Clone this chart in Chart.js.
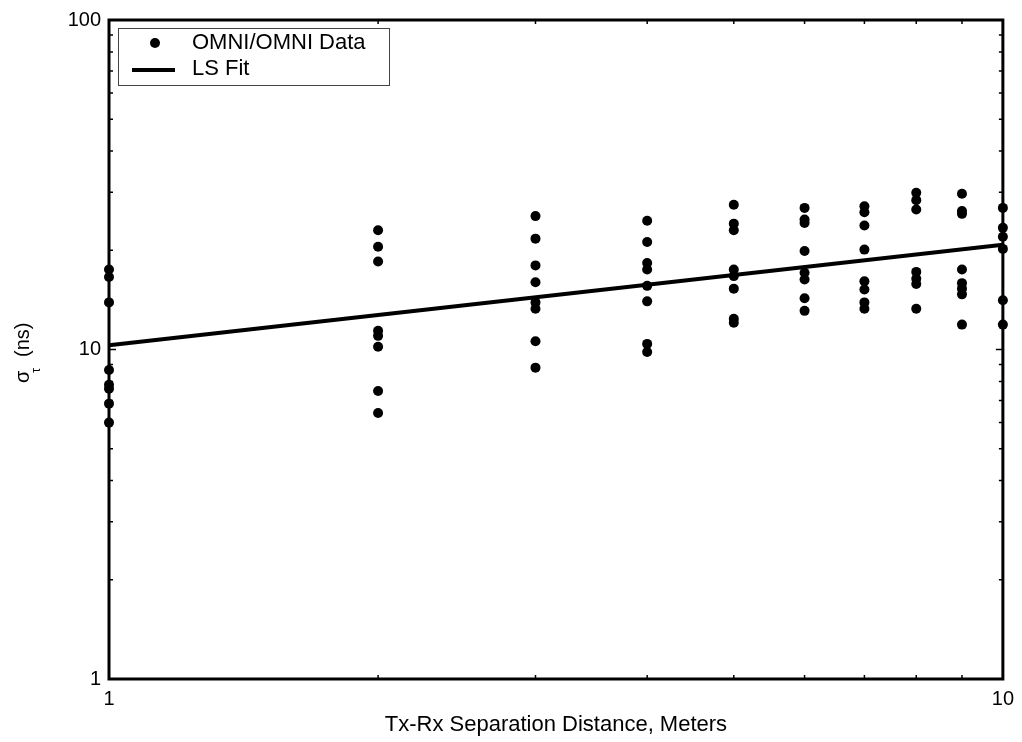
<!DOCTYPE html>
<html>
<head>
<meta charset="utf-8">
<script src="https://cdn.jsdelivr.net/npm/chart.js@4/dist/chart.umd.min.js"></script>
<style>
  html, body { margin: 0; padding: 0; background: #fff; }
  #wrap { width: 1022px; height: 742px; }
</style>
</head>
<body>
<div id="wrap"><canvas id="chart" width="1022" height="742"></canvas></div>
<script>
// delay spread (ns) measured at each Tx-Rx separation (m)
const distances = [1, 2, 3, 4, 5, 6, 7, 8, 9, 10];
const at1m  = [17.5, 16.6, 13.9, 8.67, 7.81, 7.60, 6.85, 6.00];
const at2m  = [23.0, 20.5, 18.5, 11.4, 11.0, 10.2, 7.48, 6.42];
const at3m  = [25.4, 21.7, 18.0, 16.0, 13.9, 13.3, 10.6, 8.81];
const at4m  = [24.6, 21.2, 18.3, 17.5, 15.6, 14.0, 10.4, 9.83];
const at5m  = [27.5, 24.1, 23.0, 17.5, 16.7, 15.3, 12.4, 12.05];
const at6m  = [26.9, 24.8, 24.2, 19.9, 17.1, 16.3, 14.3, 13.1];
const at7m  = [27.2, 26.1, 23.8, 20.1, 16.1, 15.2, 13.9, 13.3];
const at8m  = [29.9, 28.4, 26.6, 17.2, 16.4, 15.8, 13.3];
const at9m  = [29.7, 26.3, 25.8, 17.5, 15.9, 15.3, 14.7, 11.9];
const at10m = [26.9, 23.4, 22.0, 20.2, 14.1, 11.9];
const measured = [at1m, at2m, at3m, at4m, at5m, at6m, at7m, at8m, at9m, at10m];

// least-squares fit, straight on log-log axes
const fitX = [1, 10];
const fitY = [10.3, 20.8];

const xTickLabels = [1, 10];
const yTickLabels = [1, 10, 100];
const xMinor = [2, 3, 4, 5, 6, 7, 8, 9];
const yMinor = [2, 3, 4, 5, 6, 7, 8, 9, 20, 30, 40, 50, 60, 70, 80, 90];

const FONT = '"Liberation Sans", Arial, Helvetica, sans-serif';

const scatterPoints = [];
distances.forEach((d, i) => {
    measured[i].forEach(v => scatterPoints.push({x: d, y: v}));
});
const fitPoints = fitX.map((x, i) => ({x: x, y: fitY[i]}));

// box, inward ticks, legend and the y title with its subscript
const decorations = {
    id: 'decorations',
    beforeDatasetsDraw(chart) {
        const {ctx, chartArea: a, scales} = chart;
        ctx.save();
        ctx.strokeStyle = '#000';
        ctx.lineWidth = 1.5;
        ctx.beginPath();
        xMinor.forEach(v => {
            const px = scales.x.getPixelForValue(v);
            ctx.moveTo(px, a.bottom); ctx.lineTo(px, a.bottom - 4);
            ctx.moveTo(px, a.top); ctx.lineTo(px, a.top + 4);
        });
        yMinor.forEach(v => {
            const py = scales.y.getPixelForValue(v);
            ctx.moveTo(a.left, py); ctx.lineTo(a.left + 4, py);
            ctx.moveTo(a.right, py); ctx.lineTo(a.right - 4, py);
        });
        const p10 = scales.y.getPixelForValue(10);
        ctx.moveTo(a.left, p10); ctx.lineTo(a.left + 7, p10);
        ctx.moveTo(a.right, p10); ctx.lineTo(a.right - 7, p10);
        ctx.stroke();

        ctx.lineWidth = 3;
        ctx.strokeRect(a.left, a.top, a.right - a.left, a.bottom - a.top);
        ctx.restore();
    },
    afterDraw(chart) {
        const ctx = chart.ctx;
        ctx.save();

        // legend
        ctx.fillStyle = '#fff';
        ctx.fillRect(118, 28, 271, 57);
        ctx.strokeStyle = '#444';
        ctx.lineWidth = 1;
        ctx.strokeRect(118.5, 28.5, 271, 57);
        ctx.fillStyle = '#000';
        ctx.beginPath();
        ctx.arc(155, 43, 5, 0, Math.PI * 2);
        ctx.fill();
        ctx.strokeStyle = '#000';
        ctx.lineWidth = 4;
        ctx.beginPath();
        ctx.moveTo(132, 70); ctx.lineTo(175, 70);
        ctx.stroke();
        ctx.font = '22px ' + FONT;
        ctx.textBaseline = 'middle';
        ctx.textAlign = 'left';
        ctx.fillText('OMNI/OMNI Data', 192, 43);
        ctx.fillText('LS Fit', 192, 69);

        // y axis title: sigma with tau subscript
        ctx.translate(29, 383);
        ctx.rotate(-Math.PI / 2);
        ctx.textBaseline = 'alphabetic';
        ctx.font = '20px ' + FONT;
        ctx.fillText('σ', 0, 0);
        ctx.font = '13px ' + FONT;
        ctx.fillText('τ', 10, 11);
        ctx.font = '20px ' + FONT;
        ctx.fillText('(ns)', 26, 0);
        ctx.restore();
    }
};

new Chart(document.getElementById('chart'), {
    type: 'scatter',
    data: {
        datasets: [{
            label: 'OMNI/OMNI Data',
            data: scatterPoints,
            pointRadius: 5,
            pointBackgroundColor: '#000',
            pointBorderWidth: 0,
            showLine: false,
            clip: false
        }, {
            label: 'LS Fit',
            data: fitPoints,
            showLine: true,
            borderColor: '#000',
            borderWidth: 4,
            pointRadius: 0,
            clip: false
        }]
    },
    options: {
        responsive: false,
        animation: false,
        layout: {padding: {top: 16, right: 19, bottom: 0, left: 0}},
        plugins: {
            legend: {display: false},
            tooltip: {enabled: false}
        },
        scales: {
            x: {
                type: 'logarithmic',
                min: 1,
                max: 10,
                grid: {display: false, drawTicks: false},
                border: {display: false},
                afterBuildTicks: s => { s.ticks = xTickLabels.map(v => ({value: v})); },
                afterFit: s => { s.height = 63; },
                ticks: {
                    color: '#000',
                    font: {family: FONT, size: 20},
                    padding: 8,
                    maxRotation: 0,
                    autoSkip: false,
                    callback: v => String(v)
                },
                title: {
                    display: true,
                    text: 'Tx-Rx Separation Distance, Meters',
                    color: '#000',
                    font: {family: FONT, size: 22},
                    padding: {top: 0, bottom: 4}
                }
            },
            y: {
                type: 'logarithmic',
                min: 1,
                max: 100,
                grid: {display: false, drawTicks: false},
                border: {display: false},
                afterBuildTicks: s => { s.ticks = yTickLabels.map(v => ({value: v})); },
                afterFit: s => { s.width = 109; },
                ticks: {
                    color: '#000',
                    font: {family: FONT, size: 20},
                    padding: 8,
                    autoSkip: false,
                    callback: v => String(v)
                }
            }
        }
    },
    plugins: [decorations]
});
</script>
</body>
</html>
